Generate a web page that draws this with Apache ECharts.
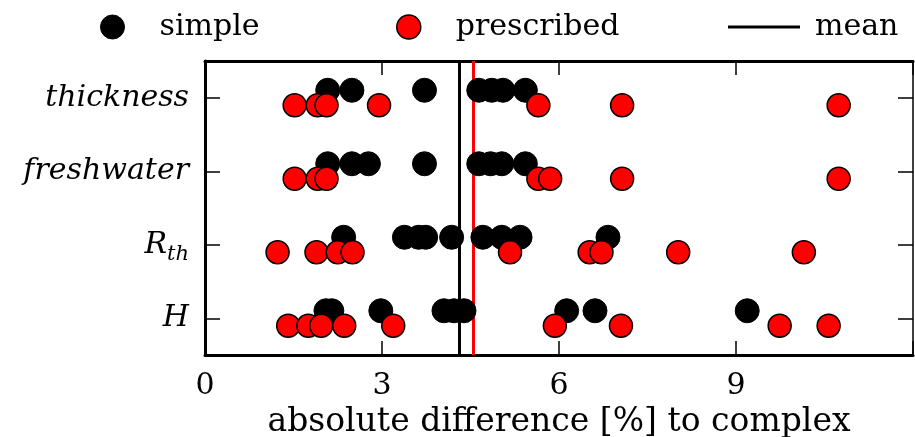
<!DOCTYPE html>
<html>
<head>
<meta charset="utf-8">
<script src="https://cdn.jsdelivr.net/npm/echarts@6/dist/echarts.min.js"></script>
<style>html,body{margin:0;padding:0;background:#fff}#c{width:915px;height:437px}</style>
</head>
<body>
<div id="c"></div>
<script>
const categories = ['H', 'R_th', 'freshwater', 'thickness'];
const xTicks = [0, 3, 6, 9];
const yTicks = [0, 1, 2, 3];

const simpleH = [2.05, 2.15, 2.98, 4.05, 4.22, 4.39, 6.13, 6.61, 9.19];
const simpleRth = [2.35, 3.38, 3.62, 3.74, 4.18, 4.71, 5.03, 5.34, 6.83];
const simpleFreshwater = [2.08, 2.49, 2.77, 3.72, 4.64, 4.84, 5.03, 5.43];
const simpleThickness = [2.08, 2.49, 3.72, 4.64, 4.86, 5.05, 5.43];

const prescribedH = [1.41, 1.75, 1.97, 2.36, 3.19, 5.93, 7.05, 9.74, 10.57];
const prescribedRth = [1.23, 1.89, 2.25, 2.50, 5.17, 6.52, 6.72, 8.02, 10.15];
const prescribedFreshwater = [1.52, 1.91, 2.06, 5.65, 5.85, 7.07, 10.74];
const prescribedThickness = [1.52, 1.91, 2.06, 2.95, 5.65, 7.07, 10.74];

const meanSimple = 4.31;
const meanPrescribed = 4.54;

function build(rows) {
  const out = [];
  rows.forEach((vals, i) => vals.forEach(v => out.push([v, i])));
  return out;
}
const simpleData = build([simpleH, simpleRth, simpleFreshwater, simpleThickness]);
const prescribedData = build([prescribedH, prescribedRth, prescribedFreshwater, prescribedThickness]);

const FONT = 'DejaVu Serif';
const chart = echarts.init(document.getElementById('c'), null, {renderer: 'canvas'});

function yAxisBase(inside, len) {
  return {
    type: 'value', min: -0.5, max: 3.5,
    splitLine: {show: false},
    axisTick: {show: true, inside: inside, length: len, customValues: yTicks, lineStyle: {color: '#000', width: 1.5}}
  };
}
function xAxisBase(inside, len) {
  return {
    type: 'value', min: 0, max: 12, interval: 3,
    splitLine: {show: false},
    axisTick: {show: true, inside: inside, length: len, lineStyle: {color: '#000', width: 1.5}}
  };
}

chart.setOption({
  animation: false,
  backgroundColor: '#fff',
  textStyle: {fontFamily: FONT},
  legend: [
    {left: 95, top: 4, data: [{name: 'simple', icon: 'circle', itemStyle: {color: '#000', borderColor: '#000', borderWidth: 1}}],
     itemWidth: 24, itemHeight: 24, textStyle: {fontFamily: FONT, fontSize: 30, color: '#000', lineHeight: 36, padding: [0, 0, 0, 30]}},
    {left: 391, top: 4, data: [{name: 'prescribed', icon: 'circle', itemStyle: {color: '#ff0000', borderColor: '#000', borderWidth: 1.5}}],
     itemWidth: 24, itemHeight: 24, textStyle: {fontFamily: FONT, fontSize: 30, color: '#000', lineHeight: 36, padding: [0, 0, 0, 30]}},
    {left: 723, top: 4, data: [{name: 'mean', icon: 'rect', itemStyle: {color: '#000', borderWidth: 0}}],
     itemWidth: 72, itemHeight: 3, textStyle: {fontFamily: FONT, fontSize: 30, color: '#000', lineHeight: 36, padding: [0, 0, 0, 10]}}
  ],
  grid: {left: 205, right: 2, top: 61, height: 294, containLabel: false, outerBoundsMode: 'none'},
  xAxis: [
    Object.assign(xAxisBase(true, 14), {
      position: 'bottom',
      axisLine: {show: true, onZero: false, lineStyle: {color: '#000', width: 3}},
      axisLabel: {show: true, margin: 16, color: '#000', fontFamily: FONT, fontSize: 30,
        formatter: v => xTicks.indexOf(v) >= 0 ? String(v) : ''},
      name: 'absolute difference [%] to complex',
      nameLocation: 'middle', nameGap: 48,
      nameTextStyle: {fontFamily: FONT, fontSize: 33, color: '#000'}
    }),
    Object.assign(xAxisBase(false, -14), {
      position: 'top',
      axisLine: {show: true, onZero: false, lineStyle: {color: '#000', width: 3}},
      axisLabel: {show: false}
    })
  ],
  yAxis: [
    Object.assign(yAxisBase(false, -15), {
      position: 'left',
      axisLine: {show: true, onZero: false, lineStyle: {color: '#000', width: 3}},
      axisLabel: {
        show: true, margin: 16, color: '#000', customValues: yTicks,
        formatter: v => {
          const c = categories[Math.round(v)];
          if (c === undefined) return '';
          return c === 'R_th' ? '{a|R}{b|th}' : '{a|' + c + '}';
        },
        rich: {
          a: {fontFamily: FONT, fontStyle: 'italic', fontSize: 30, color: '#000', lineHeight: 40},
          b: {fontFamily: FONT, fontStyle: 'italic', fontSize: 21, color: '#000', lineHeight: 40, verticalAlign: 'bottom', padding: [14, 0, 0, 0]}
        }
      }
    }),
    Object.assign(yAxisBase(true, 15), {
      position: 'right',
      axisLine: {show: true, onZero: false, lineStyle: {color: '#000', width: 1.5}},
      axisLabel: {show: false}
    })
  ],
  series: [
    {
      name: 'mean', type: 'line', data: [], xAxisIndex: 0, yAxisIndex: 0,
      itemStyle: {color: '#000'}, lineStyle: {color: '#000', width: 3}, symbol: 'none',
      z: 1,
      markLine: {
        silent: true, symbol: 'none', label: {show: false}, z: 1,
        data: [
          {xAxis: meanSimple, lineStyle: {color: '#000', width: 3, type: 'solid'}},
          {xAxis: meanPrescribed, lineStyle: {color: '#ff0000', width: 3, type: 'solid'}}
        ]
      }
    },
    {
      name: 'simple', type: 'scatter', data: simpleData, xAxisIndex: 0, yAxisIndex: 0,
      symbol: 'circle', symbolSize: 24, symbolOffset: [0, -7.5],
      itemStyle: {color: '#000', borderColor: '#000', borderWidth: 1, opacity: 1}, z: 3
    },
    {
      name: 'prescribed', type: 'scatter', data: prescribedData, xAxisIndex: 0, yAxisIndex: 0,
      symbol: 'circle', symbolSize: 23, symbolOffset: [0, 7.5],
      itemStyle: {color: '#ff0000', borderColor: '#000', borderWidth: 1.5, opacity: 1}, z: 4
    }
  ]
});
</script>
</body>
</html>
